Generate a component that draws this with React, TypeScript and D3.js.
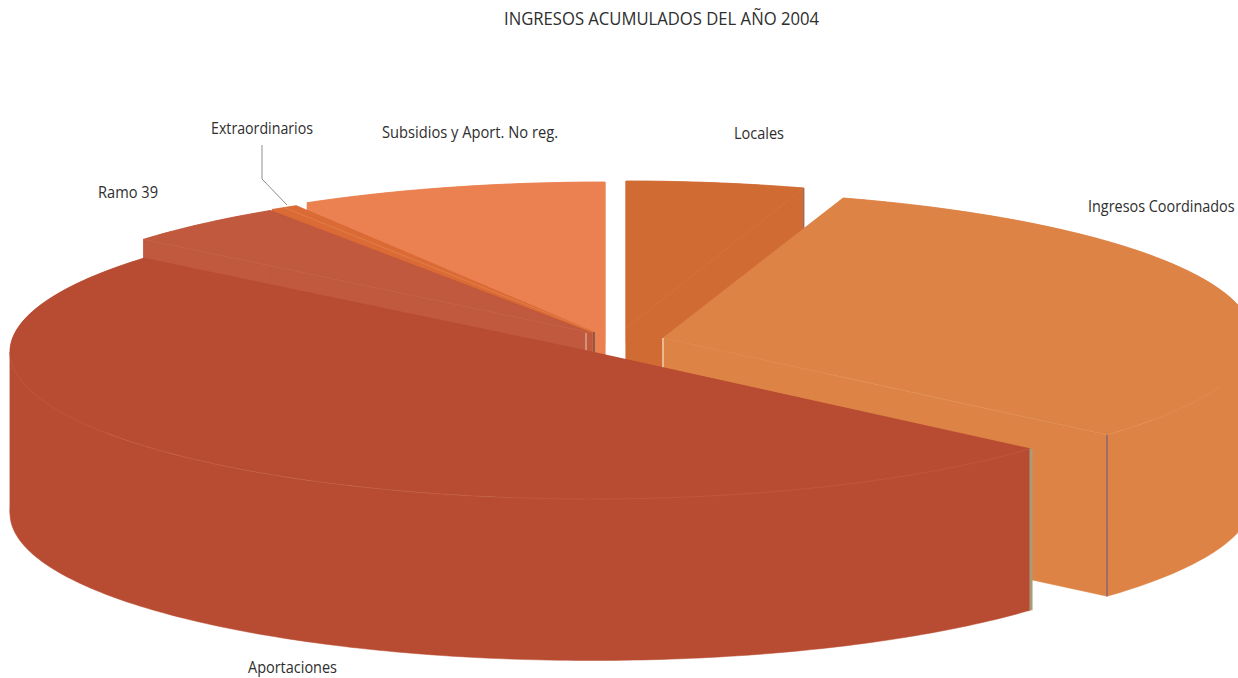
import React from "react";
import * as d3 from "d3";

// ---- data ----
const categories = ["Locales", "Ingresos Coordinados", "Aportaciones", "Ramo 39", "Extraordinarios", "Subsidios y Aport. No reg."];
const shares = [4.94, 31.5, 49.56, 4.67, 0.78, 8.55];

// ---- style / layout ----
const colors = ["#D06B33", "#DD8345", "#B84C32", "#C0593D", "#DB6B36", "#EB8150"];
const rimColors = ["#DC8350", "#E59A63", "#C9684C", "#D07555", "#EC9A60", "#EB8150"];
const apexX = [626, 663, 592, 592, 594, 605];
const apexY = [328, 338, 352, 333, 332, 329];
const radiusX = [582, 590, 582, 582, 582, 582];
const drawOrder = [0, 5, 4, 3, 1, 2];
const RY = 147;
const DEPTH = 161.5;
const W = 1238;
const H = 678;
const FONT = "'Open Sans', 'Noto Sans', sans-serif";

const labels = [
  { text: "INGRESOS ACUMULADOS DEL AÑO 2004", x: 504, y: 25, w: 315, size: 17.5 },
  { text: categories[4], x: 211, y: 134, w: 102, size: 16.5 },
  { text: categories[5], x: 382, y: 138, w: 176, size: 16.5 },
  { text: categories[0], x: 734, y: 139, w: 50, size: 16.5 },
  { text: categories[1], x: 1088, y: 212, w: 0, size: 16, scaleX: 0.9 },
  { text: categories[3], x: 98, y: 198, w: 60, size: 16.5 },
  { text: categories[2], x: 248, y: 673, w: 89, size: 16 },
];

const arcs = d3.pie<number>().sort(null).value((d) => d)(shares);
const line = d3.line<[number, number]>();

function rimPoint(i: number, a: number, dz = 0): [number, number] {
  return [apexX[i] + radiusX[i] * Math.sin(a), apexY[i] - RY * Math.cos(a) + dz];
}
function rim(i: number, a0: number, a1: number, dz = 0): [number, number][] {
  const n = Math.max(2, Math.ceil(Math.abs(a1 - a0) * 60));
  return d3.range(n + 1).map((k) => rimPoint(i, a0 + ((a1 - a0) * k) / n, dz));
}
function solidParts(i: number) {
  const { startAngle: a0, endAngle: a1 } = arcs[i];
  const apex: [number, number] = [apexX[i], apexY[i]];
  const apexLow: [number, number] = [apexX[i], apexY[i] + DEPTH];
  const top = line([apex, ...rim(i, a0, a1)]) + "Z";
  const cuts = [Math.PI / 2, (3 * Math.PI) / 2].filter((c) => c > a0 && c < a1);
  const stops = [a0, ...cuts, a1];
  const walls = d3.pairs(stops).map(([s, e]) => line([...rim(i, s, e), ...rim(i, e, s, DEPTH)]) + "Z");
  const f0 = line([apex, rimPoint(i, a0), rimPoint(i, a0, DEPTH), apexLow]) + "Z";
  const f1 = line([apex, rimPoint(i, a1), rimPoint(i, a1, DEPTH), apexLow]) + "Z";
  return [f0, f1, ...walls, top];
}

const IDX_LOC = 0, IDX_ING = 1, IDX_APO = 2, IDX_RAM = 3, IDX_EXT = 4;

export default function App() {
  const ang = (i: number) => arcs[i];
  const faint = (i: number, pts: [number, number][], key: string) => (
    <path key={key} d={line(pts) as string} fill="none" stroke={rimColors[i]} strokeWidth={1} opacity={0.4} />
  );
  const apexOf = (i: number): [number, number] => [apexX[i], apexY[i]];
  const vert = (p: [number, number], len: number, color: string, w: number, dx = 0) => (
    <line x1={p[0] + dx} x2={p[0] + dx} y1={p[1]} y2={p[1] + len} stroke={color} strokeWidth={w} />
  );

  const details: Record<number, React.ReactNode> = {
    [IDX_LOC]: (
      <g>
        {faint(IDX_LOC, [apexOf(IDX_LOC), rimPoint(IDX_LOC, ang(IDX_LOC).endAngle)], "l")}
        {vert(rimPoint(IDX_LOC, ang(IDX_LOC).endAngle), DEPTH, "#8F6A6E", 1)}
      </g>
    ),
    [IDX_RAM]: (
      <g>
        {faint(IDX_RAM, [apexOf(IDX_RAM), rimPoint(IDX_RAM, ang(IDX_RAM).startAngle)], "r")}
        {vert([apexX[IDX_RAM] - 6, apexY[IDX_RAM]], 22, "#D9A68C", 1.5)}
      </g>
    ),
    [IDX_EXT]: (
      <g>
        {faint(IDX_EXT, [apexOf(IDX_EXT), rimPoint(IDX_EXT, (ang(IDX_EXT).startAngle + ang(IDX_EXT).endAngle) / 2)], "e")}
        {vert(apexOf(IDX_EXT), 23, "#5B4A55", 1.2)}
      </g>
    ),
    [IDX_ING]: (
      <g>
        {faint(IDX_ING, [apexOf(IDX_ING), rimPoint(IDX_ING, ang(IDX_ING).endAngle)], "i1")}
        {faint(IDX_ING, rim(IDX_ING, ang(IDX_ING).endAngle, ang(IDX_ING).startAngle + 1.6), "i2")}
        {vert(apexOf(IDX_ING), 32, "#EDB88F", 2)}
        {vert(rimPoint(IDX_ING, ang(IDX_ING).endAngle), DEPTH, "#8A6570", 1.5)}
      </g>
    ),
    [IDX_APO]: (
      <g>
        {faint(IDX_APO, rim(IDX_APO, ang(IDX_APO).startAngle, ang(IDX_APO).endAngle - 0.75), "a")}
        {vert(rimPoint(IDX_APO, ang(IDX_APO).startAngle), DEPTH, "#A89C7C", 3, 1)}
      </g>
    ),
  };

  return (
    <svg
      width={W}
      height={H}
      viewBox={`0 0 ${W} ${H}`}
      style={{ position: "absolute", left: 0, top: 0, display: "block", background: "#fff" }}
    >
      {drawOrder.map((i) => (
        <g key={categories[i]}>
          {solidParts(i).map((d, k) => (
            <path key={k} d={d} fill={colors[i]} stroke={colors[i]} strokeWidth={0.5} />
          ))}
          {details[i]}
        </g>
      ))}
      <polyline points="262,145 262,179 287,205" fill="none" stroke="#8E8E8E" strokeWidth={1} />
      {labels.map((l) =>
        l.scaleX ? (
          <text
            key={l.text}
            transform={`translate(${l.x},${l.y}) scale(${l.scaleX},1)`}
            fontFamily={FONT}
            fontSize={l.size}
            fill="#2E2E2E"
          >
            {l.text}
          </text>
        ) : (
          <text
            key={l.text}
            x={l.x}
            y={l.y}
            textLength={l.w}
            lengthAdjust="spacingAndGlyphs"
            fontFamily={FONT}
            fontSize={l.size}
            fill="#2E2E2E"
          >
            {l.text}
          </text>
        )
      )}
    </svg>
  );
}
